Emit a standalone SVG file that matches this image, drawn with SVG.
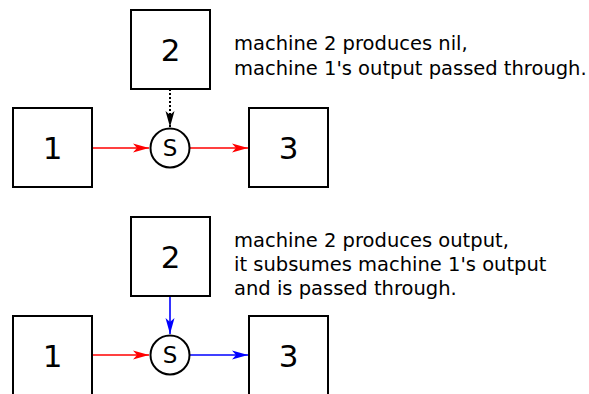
<svg xmlns="http://www.w3.org/2000/svg" width="589" height="394" viewBox="0 0 589 394">
<style>
.box{fill:#fff;stroke:#000;stroke-width:2}
.sw{fill:#fff;stroke:#000;stroke-width:2}
.num{font-family:"DejaVu Sans",sans-serif;font-size:31px;text-anchor:middle;fill:#000}
.s{font-family:"DejaVu Sans",sans-serif;font-size:23px;text-anchor:middle;fill:#000}
.note{font-family:"DejaVu Sans",sans-serif;font-size:19.5px;fill:#000}
.red{stroke:#f00;stroke-width:1.6;fill:none}
.blue{stroke:#00f;stroke-width:1.6;fill:none}
.dot{stroke:#000;stroke-width:2;stroke-dasharray:2,2;fill:none}
</style>
<defs>
<marker id="ar" markerWidth="18" markerHeight="10" refX="16" refY="5" orient="auto" markerUnits="userSpaceOnUse"><path d="M0,0.5 L16,5 L0,9.5 L4,5 Z" fill="#f00"/></marker>
<marker id="ab" markerWidth="18" markerHeight="10" refX="16" refY="5" orient="auto" markerUnits="userSpaceOnUse"><path d="M0,0.5 L16,5 L0,9.5 L4,5 Z" fill="#00f"/></marker>
<marker id="ak" markerWidth="18" markerHeight="10" refX="16" refY="5" orient="auto" markerUnits="userSpaceOnUse"><path d="M0,0.5 L16,5 L0,9.5 L4,5 Z" fill="#000"/></marker>
</defs>
<g id="connectors">
<path class="red" d="M92,148 H149" marker-end="url(#ar)"/>
<path class="red" d="M190,148 H248" marker-end="url(#ar)"/>
<path class="dot" d="M170,89 V127" marker-end="url(#ak)"/>
<path class="red" d="M92,355 H149" marker-end="url(#ar)"/>
<path class="blue" d="M190,355 H248" marker-end="url(#ab)"/>
<path class="blue" d="M170,296 V334" marker-end="url(#ab)"/>
</g>
<g id="top-1"><rect class="box" x="13" y="108" width="79" height="79"/><text class="num" x="52.5" y="159">1</text></g>
<g id="top-2"><rect class="box" x="131" y="10" width="79" height="79"/><text class="num" x="170.5" y="61">2</text></g>
<g id="top-3"><rect class="box" x="249" y="108" width="79" height="79"/><text class="num" x="288.5" y="159">3</text></g>
<g id="top-s"><circle class="sw" cx="170" cy="148" r="19.5"/><text class="s" x="170" y="156">S</text></g>
<g id="top-note"><text class="note" x="234" y="50">machine 2 produces nil,</text><text class="note" x="234" y="75">machine 1's output passed through.</text></g>
<g id="bot-1"><rect class="box" x="13" y="316" width="79" height="79"/><text class="num" x="52.5" y="367">1</text></g>
<g id="bot-2"><rect class="box" x="131" y="217" width="79" height="79"/><text class="num" x="170.5" y="268">2</text></g>
<g id="bot-3"><rect class="box" x="249" y="316" width="79" height="79"/><text class="num" x="288.5" y="367">3</text></g>
<g id="bot-s"><circle class="sw" cx="170" cy="355" r="19.5"/><text class="s" x="170" y="363">S</text></g>
<g id="bot-note"><text class="note" x="234" y="247">machine 2 produces output,</text><text class="note" x="234" y="271">it subsumes machine 1's output</text><text class="note" x="234" y="295">and is passed through.</text></g>
</svg>
